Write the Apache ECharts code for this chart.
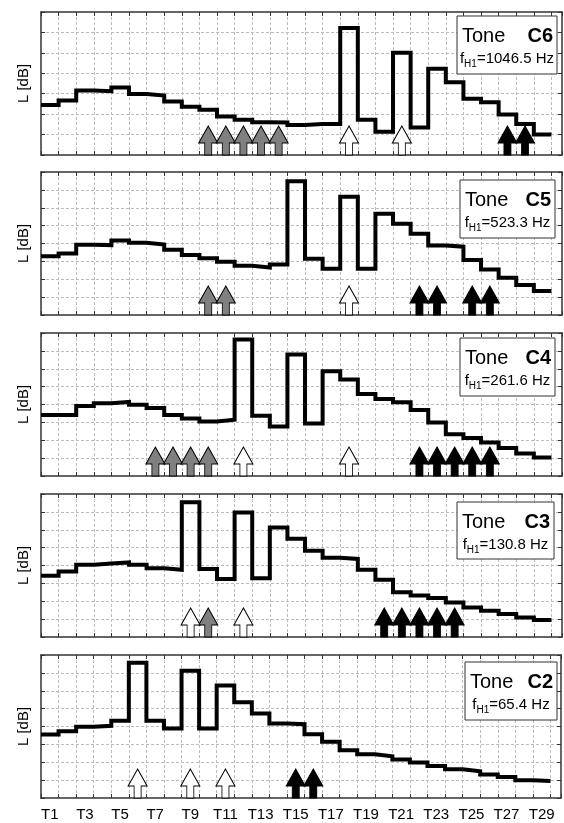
<!DOCTYPE html>
<html>
<head>
<meta charset="utf-8">
<script src="https://cdn.jsdelivr.net/npm/echarts@6/dist/echarts.min.js"></script>
<style>
  html, body { margin: 0; padding: 0; background: #fff; }
  #chart { width: 564px; height: 823px; }
</style>
</head>
<body>
<div id="chart"></div>
<script>
// categories (terzbands) and tick labels
const categories = ['T1','T2','T3','T4','T5','T6','T7','T8','T9','T10','T11','T12','T13','T14','T15',
  'T16','T17','T18','T19','T20','T21','T22','T23','T24','T25','T26','T27','T28','T29'];

const tones = ['C6', 'C5', 'C4', 'C3', 'C2'];
const freqs = ['1046.5', '523.3', '261.6', '130.8', '65.4'];

// level per band (relative dB)
const levelC6 = [24.5, 26.7, 31.6, 31.2, 33.0, 29.8, 29.1, 26.2, 23.6, 22.1, 18.8, 17.2, 16.0, 15.9, 14.7,
  15.2, 15.2, 62.2, 17.2, 11.4, 50.1, 13.5, 42.2, 35.6, 27.5, 25.8, 19.8, 15.2, 10.0];
const levelC5 = [32.9, 34.4, 39.3, 39.1, 41.7, 40.4, 39.4, 36.5, 33.5, 31.8, 29.8, 27.5, 26.6, 28.3, 74.8,
  31.5, 25.9, 66.1, 25.9, 56.6, 51.0, 45.4, 38.9, 38.2, 30.7, 25.5, 20.9, 16.8, 13.4];
const levelC4 = [34.1, 34.1, 39.2, 40.7, 41.4, 39.9, 38.0, 34.1, 32.2, 30.5, 31.5, 76.4, 33.7, 27.7, 68.0,
  29.4, 58.6, 54.0, 45.9, 43.1, 41.2, 36.9, 30.0, 23.4, 21.2, 18.7, 15.6, 12.6, 10.3];
const levelC3 = [34.2, 36.6, 40.4, 41.1, 41.7, 40.4, 38.5, 37.6, 75.4, 38.0, 32.4, 69.6, 32.9, 61.2, 54.9,
  48.2, 44.4, 43.7, 37.6, 32.0, 25.1, 23.2, 21.8, 19.3, 16.5, 14.7, 12.8, 10.9, 9.5];
const levelC2 = [35.5, 37.4, 39.8, 40.4, 43.2, 75.7, 43.2, 38.9, 71.2, 38.9, 63.0, 53.6, 47.3, 41.7, 41.3,
  35.7, 31.4, 26.7, 24.5, 23.4, 21.5, 19.8, 17.9, 16.1, 15.0, 13.1, 11.8, 9.9, 9.5];

// arrow markers (bands)
const grayC6 = ['T10','T11','T12','T13','T14'];
const whiteC6 = ['T18','T21'];
const blackC6 = ['T27','T28'];
const grayC5 = ['T10','T11'];
const whiteC5 = ['T18'];
const blackC5 = ['T22','T23','T25','T26'];
const grayC4 = ['T7','T8','T9','T10'];
const whiteC4 = ['T12','T18'];
const blackC4 = ['T22','T23','T24','T25','T26'];
const grayC3 = ['T10'];
const whiteC3 = ['T9','T12'];
const blackC3 = ['T20','T21','T22','T23','T24'];
const grayC2 = [];
const whiteC2 = ['T6','T9','T11'];
const blackC2 = ['T15','T16'];

const FONT = 'Liberation Sans, Arial, sans-serif';
const XMAX = 29.6;
const ARROW = 'path://M9.5,0L19,17L13,17L13,29L6,29L6,17L0,17Z';

const panels = [
  { level: levelC6, yMax: 70, gray: grayC6, white: whiteC6, black: blackC6, top: 12,  box: [457, 16, 100, 58] },
  { level: levelC5, yMax: 80, gray: grayC5, white: whiteC5, black: blackC5, top: 172, box: [460, 180, 95, 58] },
  { level: levelC4, yMax: 80, gray: grayC4, white: whiteC4, black: blackC4, top: 333, box: [460, 338, 95, 58] },
  { level: levelC3, yMax: 80, gray: grayC3, white: whiteC3, black: blackC3, top: 494, box: [457, 502, 97, 57] },
  { level: levelC2, yMax: 80, gray: grayC2, white: whiteC2, black: blackC2, top: 655, box: [465, 662, 92, 58] }
];

const grid = [], xAxis = [], yAxis = [], series = [], graphic = [];
const edge = { show: true, onZero: false, lineStyle: { color: '#333333', width: 1.5 } };
const ticks = { show: true, inside: true, length: 4, lineStyle: { color: '#333333', width: 1 } };
const dashed = { show: true, showMinLine: false, showMaxLine: false,
  lineStyle: { color: '#bdbdbd', width: 1, type: [3, 2] } };

panels.forEach((p, i) => {
  grid.push({ left: 41, right: 2, top: p.top, height: 143 });

  xAxis.push({ type: 'value', gridIndex: i, position: 'bottom', min: 0, max: XMAX, interval: 1,
    axisLine: edge, axisTick: ticks, axisLabel: { show: false }, splitLine: dashed });
  xAxis.push({ type: 'value', gridIndex: i, position: 'top', min: 0, max: XMAX, interval: 1,
    axisLine: edge, axisTick: ticks, axisLabel: { show: false }, splitLine: { show: false } });

  yAxis.push({ type: 'value', gridIndex: i, position: 'left', min: 0, max: p.yMax, interval: 10,
    axisLine: edge, axisTick: ticks, axisLabel: { show: false }, splitLine: dashed,
    name: 'L [dB]', nameLocation: 'middle', nameGap: 10, nameRotate: 90,
    nameTextStyle: { fontSize: 15, color: '#000', fontFamily: FONT } });
  yAxis.push({ type: 'value', gridIndex: i, position: 'right', min: 0, max: p.yMax, interval: 10,
    axisLine: edge, axisTick: ticks, axisLabel: { show: false }, splitLine: { show: false } });

  // step line: each band is a flat segment from k to k+1
  const pts = p.level.map((v, k) => [k, v]);
  pts.push([p.level.length, p.level[p.level.length - 1]]);
  series.push({ type: 'line', xAxisIndex: 2 * i, yAxisIndex: 2 * i, data: pts, step: 'end',
    symbol: 'none', silent: true, z: 3,
    lineStyle: { color: '#000', width: 4, join: 'miter', cap: 'butt' } });

  [['gray', '#808080'], ['white', '#ffffff'], ['black', '#000000']].forEach(([kind, col]) => {
    if (!p[kind].length) return;
    series.push({ type: 'scatter', xAxisIndex: 2 * i, yAxisIndex: 2 * i, clip: false, silent: true, z: 4,
      symbol: ARROW, symbolSize: [19, 29], symbolOffset: [0, '-50%'],
      itemStyle: { color: col, borderColor: '#000', borderWidth: 1, opacity: 1 },
      data: p[kind].map(t => [categories.indexOf(t) + 0.5, 0]) });
  });

  // legend box
  const [bx, by, bw, bh] = p.box;
  graphic.push({ type: 'rect', z: 10, shape: { x: bx, y: by, width: bw, height: bh },
    style: { fill: '#fff', stroke: '#333', lineWidth: 1 } });
  graphic.push({ type: 'text', z: 11, x: bx + 5, y: by + 20,
    style: { text: 'Tone', fontSize: 20, fontFamily: FONT, fill: '#000', align: 'left', verticalAlign: 'middle' } });
  graphic.push({ type: 'text', z: 11, x: bx + bw - 4, y: by + 20,
    style: { text: tones[i], fontSize: 20, fontWeight: 'bold', fontFamily: FONT, fill: '#000',
      align: 'right', verticalAlign: 'middle' } });
  graphic.push({ type: 'text', z: 11, x: bx + bw / 2, y: by + 44,
    style: { text: '{m|f}{s|H1}{m|=' + freqs[i] + ' Hz}', fill: '#000', align: 'center', verticalAlign: 'middle',
      rich: {
        m: { fontSize: 15, fontFamily: FONT, lineHeight: 18, verticalAlign: 'top', fill: '#000' },
        s: { fontSize: 10, fontFamily: FONT, lineHeight: 10, verticalAlign: 'bottom', fill: '#000' }
      } } });
});

// band labels under the bottom panel, centred in each band
xAxis.push({ type: 'value', gridIndex: 4, position: 'bottom', min: 0, max: XMAX, interval: 0.5,
  axisLine: { show: false, onZero: false }, axisTick: { show: false }, splitLine: { show: false },
  axisLabel: { show: true, margin: 9, fontSize: 15, color: '#000', fontFamily: FONT,
    formatter: v => {
      const k = v - 0.5;
      const r = Math.round(k);
      if (Math.abs(k - r) < 1e-6 && r % 2 === 0 && categories[r]) return categories[r];
      return '';
    } } });

const chart = echarts.init(document.getElementById('chart'));
chart.setOption({
  backgroundColor: '#ffffff',
  animation: false,
  grid, xAxis, yAxis, series, graphic
});
</script>
</body>
</html>
